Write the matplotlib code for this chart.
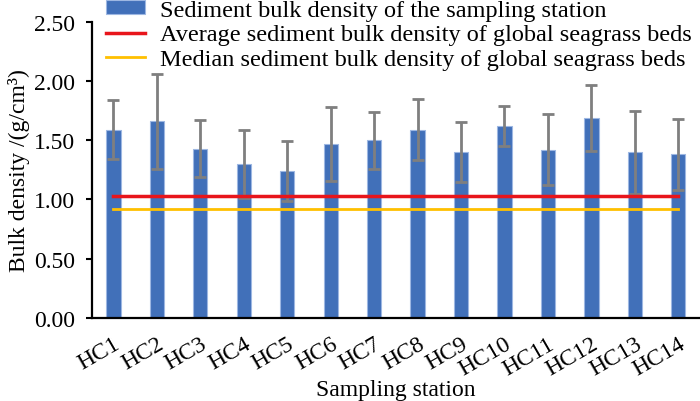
import matplotlib
matplotlib.use('Agg')
import matplotlib.pyplot as plt
import numpy as np

plt.rcParams['font.family'] = ['Liberation Serif', 'DejaVu Serif']

# bulk density per station
stations = ['HC1', 'HC2', 'HC3', 'HC4', 'HC5', 'HC6', 'HC7',
            'HC8', 'HC9', 'HC10', 'HC11', 'HC12', 'HC13', 'HC14']
density = [1.59, 1.66, 1.43, 1.30, 1.24, 1.47, 1.50,
           1.59, 1.40, 1.62, 1.42, 1.69, 1.40, 1.38]
density_sd = [0.25, 0.40, 0.24, 0.29, 0.25, 0.31, 0.24,
              0.26, 0.25, 0.17, 0.30, 0.28, 0.35, 0.30]
global_mean = 1.03
global_median = 0.92

x = np.arange(len(stations))

fig = plt.figure(figsize=(7.0, 4.02), dpi=100)
ax = fig.add_axes([0.131, 0.2065, 0.869, 0.737])

bars = ax.bar(x, density, width=0.33, color='#4170B9', edgecolor='#9db7e2', linewidth=0.8,
              label='Sediment bulk density of the sampling station', zorder=2)
ax.errorbar(x, density, yerr=density_sd, fmt='none', ecolor='#7f7f7f',
            elinewidth=2, capsize=4, capthick=2, zorder=3)
l1, = ax.plot(x, [global_mean] * len(x), color='#E8151B', lw=2.5,
              label='Average sediment bulk density of global seagrass beds', zorder=4)
l2, = ax.plot(x, [global_median] * len(x), color='#FFC000', lw=2,
              label='Median sediment bulk density of global seagrass beds', zorder=4)

ax.set_xlim(-0.5, 13.5)
ax.set_ylim(0, 2.5)
ax.set_yticks(np.arange(0, 2.51, 0.5))
ax.set_yticklabels(['%.2f' % v for v in np.arange(0, 2.51, 0.5)])
ax.set_xticks(x)
ax.set_xticklabels(stations, rotation=30, ha='right', rotation_mode='anchor')

ax.tick_params(axis='y', direction='out', length=4, width=1.5, pad=8, labelsize=17)
ax.tick_params(axis='x', length=0, pad=11, labelsize=17)

for s in ['top', 'right']:
    ax.spines[s].set_visible(False)
for s in ['left', 'bottom']:
    ax.spines[s].set_linewidth(1.6)
    ax.spines[s].set_color('black')

ax.set_xlabel('Sampling station', fontsize=17)
ax.xaxis.set_label_coords(0.5, -0.205)
ax.set_ylabel('Bulk density /(g/cm³)', fontsize=17, labelpad=3)

ax.legend([bars, l1, l2], [bars.get_label(), l1.get_label(), l2.get_label()],
          loc='upper left', bbox_to_anchor=(0.152, 0.998), bbox_transform=fig.transFigure,
          frameon=False, fontsize=17.5, handlelength=1.6, handleheight=0.5,
          handletextpad=0.6, labelspacing=0.15, borderaxespad=0, borderpad=0)

fig.savefig('out.png', dpi=100)
